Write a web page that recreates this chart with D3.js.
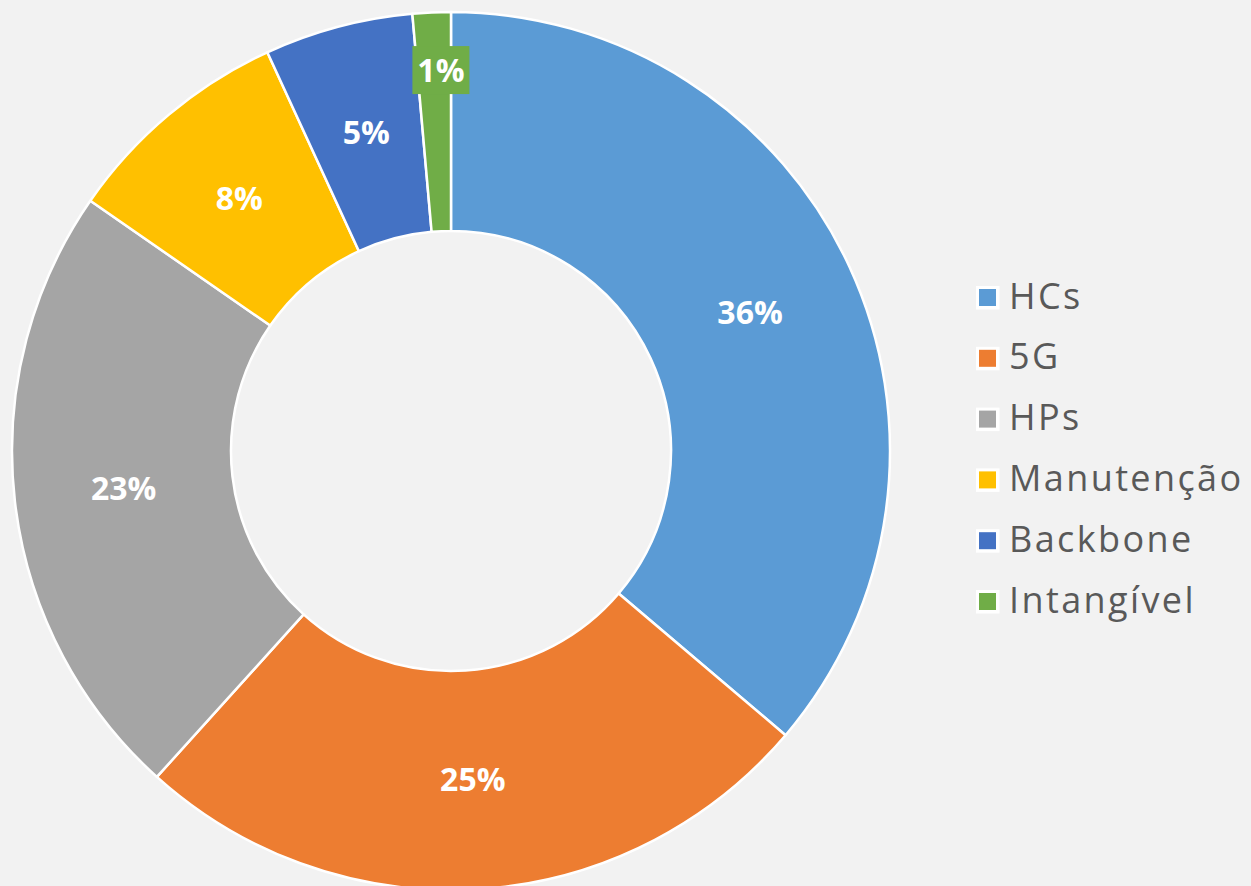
<!DOCTYPE html>
<html>
<head>
<meta charset="utf-8">
<script src="https://cdn.jsdelivr.net/npm/d3@7"></script>
<style>
  html, body { margin: 0; padding: 0; background: #F2F2F2; }
  svg { display: block; }
</style>
</head>
<body>
<svg id="chart" width="1251" height="886"></svg>
<script>
const categories = ["HCs", "5G", "HPs", "Manutenção", "Backbone", "Intangível"];
const values = [36.1, 25.4, 22.9, 8.45, 5.45, 1.4];
const colors = ["#5B9BD5", "#ED7D31", "#A5A5A5", "#FFC000", "#4472C4", "#70AD47"];

const W = 1251, H = 886;
const cx = 451, cy = 451;
const outerR = 439, innerR = 220;

const svg = d3.select("#chart");
svg.append("rect").attr("width", W).attr("height", H).attr("fill", "#F2F2F2");

const data = categories.map((c, i) => ({ name: c, value: values[i], color: colors[i] }));
const total = d3.sum(values);

const pie = d3.pie().sort(null).value(d => d.value).startAngle(0).endAngle(2 * Math.PI);
const arcs = pie(data);
const arc = d3.arc().innerRadius(innerR).outerRadius(outerR);

const g = svg.append("g").attr("transform", `translate(${cx},${cy})`);

g.selectAll("path.slice")
  .data(arcs)
  .join("path")
  .attr("class", "slice")
  .attr("d", arc)
  .attr("fill", d => d.data.color)
  .attr("stroke", "#FFFFFF")
  .attr("stroke-width", 2.5)
  .attr("stroke-linejoin", "round");

const midR = (innerR + outerR) / 2;
function labelPos(d) {
  const frac = d.data.value / total;
  let a, r;
  if (frac < 0.02) {
    a = d.startAngle + 0.7 * (d.endAngle - d.startAngle);
    r = outerR * 0.868;
  } else {
    a = (d.startAngle + d.endAngle) / 2;
    r = midR;
  }
  return [r * Math.sin(a), -r * Math.cos(a)];
}

const labels = g.selectAll("g.lbl")
  .data(arcs)
  .join("g")
  .attr("class", "lbl")
  .attr("transform", d => `translate(${labelPos(d)})`);

labels.filter(d => d.data.value / total < 0.02)
  .append("rect")
  .attr("x", -28.5).attr("y", -24)
  .attr("width", 57).attr("height", 48)
  .attr("fill", d => d.data.color);

labels.append("text")
  .attr("text-anchor", "middle")
  .attr("dy", "0.357em")
  .attr("fill", "#FFFFFF")
  .attr("font-family", "'Open Sans', sans-serif")
  .attr("font-weight", 700)
  .attr("font-size", 32)
  .text(d => Math.round(d.data.value / total * 100) + "%");

// Legend
const legendY = d3.scalePoint().domain(categories).range([297.5, 601.5]);
const leg = svg.append("g");
const items = leg.selectAll("g.item")
  .data(data)
  .join("g")
  .attr("class", "item")
  .attr("transform", d => `translate(976,${legendY(d.name)})`);

items.append("rect")
  .attr("x", 0).attr("y", -11.5)
  .attr("width", 23.5).attr("height", 23.5)
  .attr("fill", "#FFFFFF");
items.append("rect")
  .attr("x", 3).attr("y", -8.5)
  .attr("width", 17).attr("height", 17)
  .attr("fill", d => d.color);
items.append("text")
  .attr("x", 33)
  .attr("y", 11)
  .attr("fill", "#595959")
  .attr("font-family", "'Open Sans', sans-serif")
  .attr("font-size", 36)
  .attr("letter-spacing", "2.4px")
  .text(d => d.name);
</script>
</body>
</html>
